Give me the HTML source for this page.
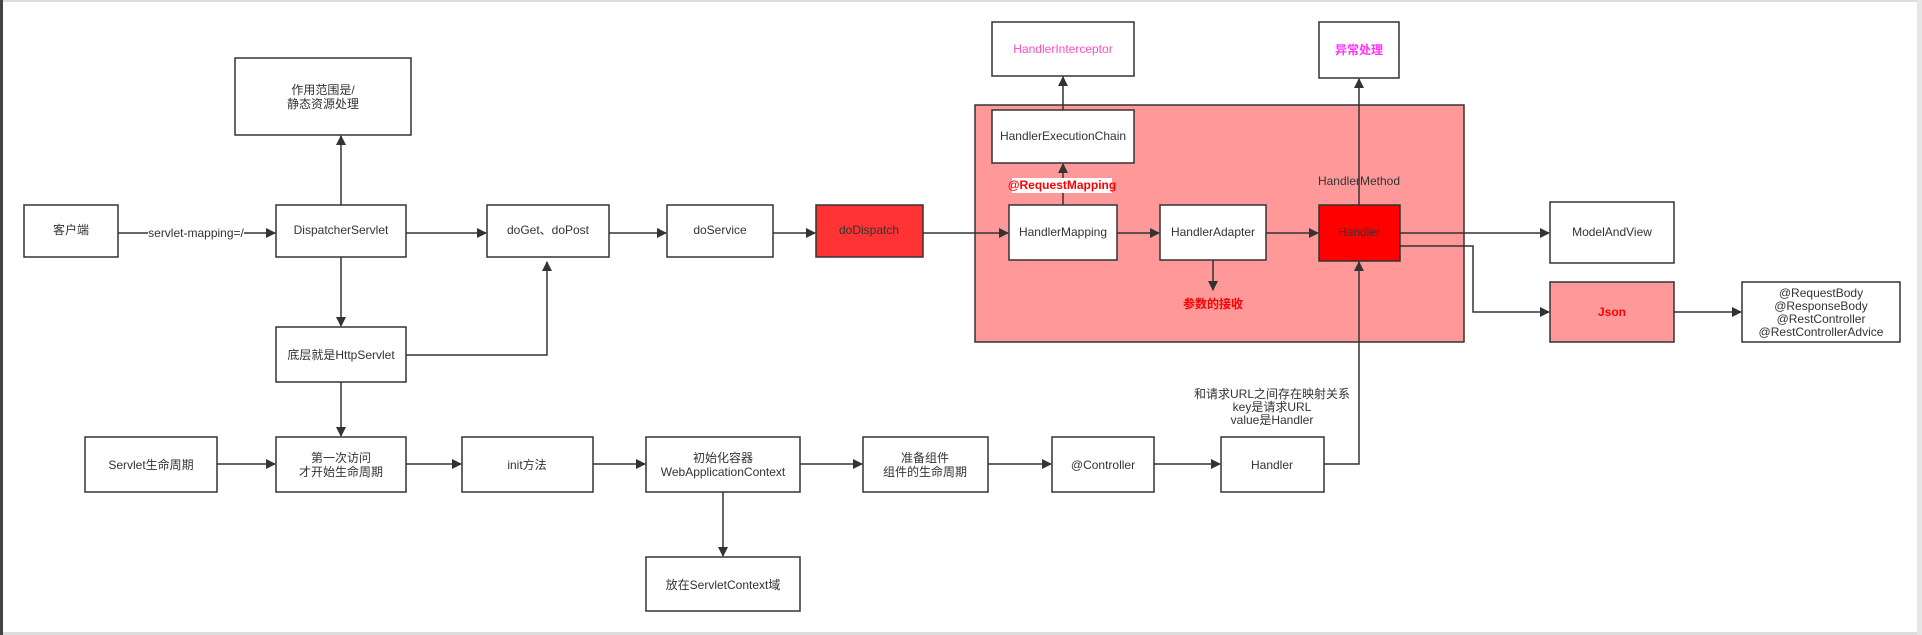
<!DOCTYPE html>
<html><head><meta charset="utf-8"><style>
html,body{margin:0;padding:0;background:#fff;}
svg{display:block;}
text{font-family:"Liberation Sans","Noto Sans CJK SC",sans-serif;font-size:12px;fill:#333;text-anchor:middle;dominant-baseline:middle;}
.b{fill:#fff;stroke:#333;stroke-width:1.5;}
.l{stroke:#333;stroke-width:1.5;fill:none;}
</style></head><body>
<svg width="1922" height="635" viewBox="0 0 1922 635" xmlns="http://www.w3.org/2000/svg">
<defs><marker id="a" markerWidth="10" markerHeight="10" refX="9" refY="5" orient="auto" markerUnits="userSpaceOnUse"><path d="M0,0 L10,5 L0,10 z" fill="#333"/></marker></defs>
<rect x="0" y="0" width="1922" height="635" fill="#fff"/>
<rect x="0" y="0" width="1922" height="2" fill="#ddd"/>
<rect x="0" y="632" width="1922" height="3" fill="#ddd"/>
<rect x="0" y="0" width="3" height="635" fill="#444"/>
<rect x="1917" y="0" width="5" height="635" fill="#e6e6e6"/>
<!-- pink region -->
<rect x="975" y="105" width="489" height="237" fill="#ff9999" stroke="#333" stroke-width="1.5"/>
<!-- boxes -->
<rect class="b" x="24" y="205" width="94" height="52"/><text x="71" y="231">客户端</text>
<rect class="b" x="235" y="58" width="176" height="77"/><text x="323" y="91">作用范围是/</text><text x="323" y="105">静态资源处理</text>
<rect class="b" x="276" y="205" width="130" height="52"/><text x="341" y="231">DispatcherServlet</text>
<rect class="b" x="487" y="205" width="122" height="52"/><text x="548" y="231">doGet、doPost</text>
<rect class="b" x="667" y="205" width="106" height="52"/><text x="720" y="231">doService</text>
<rect x="816" y="205" width="107" height="52" fill="#ff3333" stroke="#333" stroke-width="1.5"/><text x="869" y="231">doDispatch</text>
<rect class="b" x="992" y="22" width="142" height="54"/><text x="1063" y="50" style="fill:#ff4dc4">HandlerInterceptor</text>
<rect class="b" x="1319" y="22" width="80" height="56"/><text x="1359" y="51" style="fill:#ff33ff;font-weight:bold">异常处理</text>
<rect class="b" x="992" y="110" width="142" height="53"/><text x="1063" y="137">HandlerExecutionChain</text>
<rect class="b" x="1009" y="205" width="108" height="55"/><text x="1063" y="233">HandlerMapping</text>
<rect class="b" x="1160" y="205" width="106" height="55"/><text x="1213" y="233">HandlerAdapter</text>
<rect x="1319" y="205" width="81" height="56" fill="#ff0000" stroke="#333" stroke-width="1.5"/><text x="1359" y="233">Handler</text>
<text x="1359" y="182">HandlerMethod</text>
<rect x="1012" y="178" width="100" height="15" fill="#fff"/><text x="1062" y="186" style="fill:#ff0000;font-weight:bold">@RequestMapping</text>
<text x="1213" y="305" style="fill:#ff0000;font-weight:bold">参数的接收</text>
<rect class="b" x="1550" y="202" width="124" height="61"/><text x="1612" y="233">ModelAndView</text>
<rect x="1550" y="282" width="124" height="60" fill="#ff9999" stroke="#333" stroke-width="1.5"/><text x="1612" y="313" style="fill:#ff0000;font-weight:bold">Json</text>
<rect class="b" x="1742" y="282" width="158" height="60"/>
<text x="1821" y="294">@RequestBody</text><text x="1821" y="307">@ResponseBody</text><text x="1821" y="320">@RestController</text><text x="1821" y="333">@RestControllerAdvice</text>
<rect class="b" x="276" y="327" width="130" height="55"/><text x="341" y="356">底层就是HttpServlet</text>
<rect class="b" x="85" y="437" width="132" height="55"/><text x="151" y="466">Servlet生命周期</text>
<rect class="b" x="276" y="437" width="130" height="55"/><text x="341" y="459">第一次访问</text><text x="341" y="473">才开始生命周期</text>
<rect class="b" x="462" y="437" width="131" height="55"/><text x="527" y="466">init方法</text>
<rect class="b" x="646" y="437" width="154" height="55"/><text x="723" y="459">初始化容器</text><text x="723" y="473">WebApplicationContext</text>
<rect class="b" x="863" y="437" width="125" height="55"/><text x="925" y="459">准备组件</text><text x="925" y="473">组件的生命周期</text>
<rect class="b" x="1052" y="437" width="102" height="55"/><text x="1103" y="466">@Controller</text>
<rect class="b" x="1221" y="437" width="103" height="55"/><text x="1272" y="466">Handler</text>
<rect class="b" x="646" y="557" width="154" height="54"/><text x="723" y="586">放在ServletContext域</text>
<text x="1272" y="395">和请求URL之间存在映射关系</text><text x="1272" y="408">key是请求URL</text><text x="1272" y="421">value是Handler</text>
<!-- connectors -->
<line class="l" x1="118" y1="233" x2="148" y2="233"/><text x="196" y="234">servlet-mapping=/</text>
<line class="l" x1="244" y1="233" x2="275" y2="233" marker-end="url(#a)"/>
<line class="l" x1="341" y1="205" x2="341" y2="136" marker-end="url(#a)"/>
<line class="l" x1="406" y1="233" x2="486" y2="233" marker-end="url(#a)"/>
<line class="l" x1="609" y1="233" x2="666" y2="233" marker-end="url(#a)"/>
<line class="l" x1="773" y1="233" x2="815" y2="233" marker-end="url(#a)"/>
<line class="l" x1="923" y1="233" x2="1008" y2="233" marker-end="url(#a)"/>
<line class="l" x1="1117" y1="233" x2="1159" y2="233" marker-end="url(#a)"/>
<line class="l" x1="1266" y1="233" x2="1318" y2="233" marker-end="url(#a)"/>
<line class="l" x1="1400" y1="233" x2="1549" y2="233" marker-end="url(#a)"/>
<polyline class="l" points="1400,246 1473,246 1473,312 1549,312" marker-end="url(#a)"/>
<line class="l" x1="1674" y1="312" x2="1741" y2="312" marker-end="url(#a)"/>
<line class="l" x1="1063" y1="178" x2="1063" y2="164" marker-end="url(#a)"/>
<line class="l" x1="1063" y1="193" x2="1063" y2="205"/>
<line class="l" x1="1063" y1="110" x2="1063" y2="77" marker-end="url(#a)"/>
<line class="l" x1="1359" y1="205" x2="1359" y2="79" marker-end="url(#a)"/>
<line class="l" x1="1213" y1="260" x2="1213" y2="290" marker-end="url(#a)"/>
<line class="l" x1="341" y1="257" x2="341" y2="326" marker-end="url(#a)"/>
<polyline class="l" points="406,355 547,355 547,262" marker-end="url(#a)"/>
<line class="l" x1="341" y1="382" x2="341" y2="436" marker-end="url(#a)"/>
<line class="l" x1="217" y1="464" x2="275" y2="464" marker-end="url(#a)"/>
<line class="l" x1="406" y1="464" x2="461" y2="464" marker-end="url(#a)"/>
<line class="l" x1="593" y1="464" x2="645" y2="464" marker-end="url(#a)"/>
<line class="l" x1="800" y1="464" x2="862" y2="464" marker-end="url(#a)"/>
<line class="l" x1="988" y1="464" x2="1051" y2="464" marker-end="url(#a)"/>
<line class="l" x1="1154" y1="464" x2="1220" y2="464" marker-end="url(#a)"/>
<polyline class="l" points="1324,464 1359,464 1359,262" marker-end="url(#a)"/>
<line class="l" x1="723" y1="492" x2="723" y2="556" marker-end="url(#a)"/>
</svg>
</body></html>
